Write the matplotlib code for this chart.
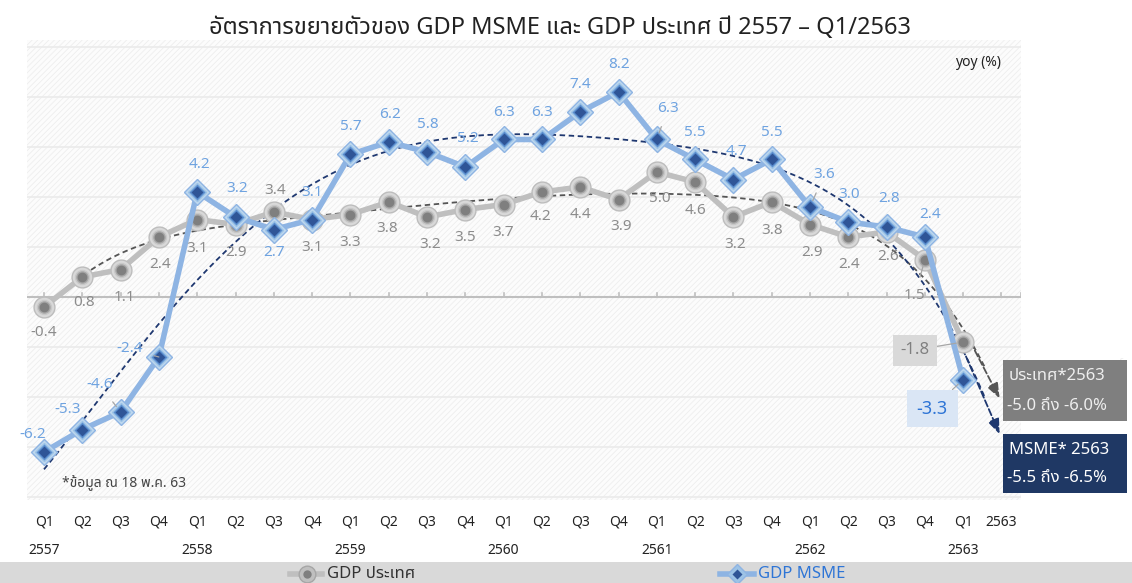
import numpy as np
import matplotlib
matplotlib.use("Agg")
import matplotlib.pyplot as plt
from matplotlib import font_manager
from matplotlib.ft2font import FT2Font
from matplotlib.patches import Rectangle
from matplotlib.lines import Line2D

# ---------------- data ----------------
quarters = ["Q1", "Q2", "Q3", "Q4"] * 6 + ["Q1", "2563"]
years = ["2557", "2558", "2559", "2560", "2561", "2562", "2563"]
gdp_thai = [-0.4, 0.8, 1.1, 2.4,
            3.1, 2.9, 3.4, 3.1,
            3.3, 3.8, 3.2, 3.5,
            3.7, 4.2, 4.4, 3.9,
            5.0, 4.6, 3.2, 3.8,
            2.9, 2.4, 2.6, 1.5,
            -1.8]
gdp_msme = [-6.2, -5.3, -4.6, -2.4,
            4.2, 3.2, 2.7, 3.1,
            5.7, 6.2, 5.8, 5.2,
            6.3, 6.3, 7.4, 8.2,
            6.3, 5.5, 4.7, 5.5,
            3.6, 3.0, 2.8, 2.4,
            -3.3]
title = "อัตราการขยายตัวของ GDP MSME และ GDP ประเทศ ปี 2557 – Q1/2563"
legend_labels = ["GDP ประเทศ", "GDP MSME"]
forecast_thai = ["ประเทศ*2563", "-5.0 ถึง -6.0%"]
forecast_msme = ["MSME* 2563", "-5.5 ถึง -6.5%"]
note = "*ข้อมูล ณ 18 พ.ค. 63"

# ---------------- fonts ----------------
def find_thai_font():
    prefs = ["Noto Sans Thai", "Noto Sans Thai Looped", "Loma", "Garuda", "Norasi", "Kinnari"]
    names = {}
    for f in font_manager.fontManager.ttflist:
        try:
            cm = FT2Font(f.fname).get_charmap()
            if 0x0E01 in cm and 0x0E16 in cm:
                names[f.name] = f.fname
        except Exception:
            pass
    for p in prefs:
        if p in names:
            return p
    return sorted(names)[0] if names else None

thai = find_thai_font()
fams = ([thai] if thai else []) + ["DejaVu Sans"]
plt.rcParams["font.family"] = fams
plt.rcParams["hatch.linewidth"] = 0.6

W, H = 1132, 583
fig = plt.figure(figsize=(W / 100, H / 100), dpi=100)
fig.patch.set_facecolor("white")

# axes placement in pixels
x0, x1, y_top, y_bot = 27, 1021, 40, 500
ax = fig.add_axes([x0 / W, 1 - y_bot / H, (x1 - x0) / W, (y_bot - y_top) / H])
xpx0, xstep = 44.0, 38.3
ypx0, ystep = 297.0, 25.0
ax.set_xlim((x0 - xpx0) / xstep, (x1 - xpx0) / xstep)
ax.set_ylim((ypx0 - y_bot) / ystep, (ypx0 - y_top) / ystep)
for s in ax.spines.values():
    s.set_visible(False)
ax.set_xticks([])
ax.set_yticks([])
ax.set_facecolor("#fcfcfc")
ax.add_patch(Rectangle((0, 0), 1, 1, transform=ax.transAxes, facecolor="none",
                       edgecolor="#eeeeee", hatch="//////", lw=0, zorder=0))
for g in range(-8, 11, 2):
    if g != 0:
        ax.axhline(g, color="#ebebeb", lw=1.2, zorder=0.5)
ax.axhline(0, color="#bfbfbf", lw=1.5, zorder=1)
n = len(gdp_thai)
xs = np.arange(n)
for t in list(range(n + 1)) + [ax.get_xlim()[1]]:
    ax.plot([t, t], [0, 0.17], color="#bfbfbf", lw=1.2, zorder=1)

# trend lines (polynomial fit of the data), extended with an arrow
xx = np.linspace(0, 24.95, 200)
for vals, col in [(gdp_thai, "#555555"), (gdp_msme, "#1f3870")]:
    c = np.polyfit(xs, vals, 6)
    yy = np.polyval(c, xx)
    ax.plot(xx[:-3], yy[:-3], ls=(0, (3, 2)), color=col, lw=1.3, zorder=2)
    ax.annotate("", xy=(xx[-1], yy[-1]), xytext=(xx[-8], yy[-8]),
                arrowprops=dict(arrowstyle="-|>,head_width=0.35,head_length=0.9",
                                color=col, lw=1.3, ls="--", shrinkA=0, shrinkB=0),
                annotation_clip=False, zorder=2)

# series
ax.plot(xs, gdp_thai, color="#bfbfbf", lw=4, zorder=3, solid_capstyle="round")
ax.plot(xs, gdp_thai, ls="none", marker="o", ms=15, mfc="#d9d9d9", mec="#bdbdbd", mew=1, zorder=4)
ax.plot(xs, gdp_thai, ls="none", marker="o", ms=10, mfc="#a6a6a6", mec="#c8c8c8", mew=1, zorder=4)
ax.plot(xs, gdp_thai, ls="none", marker="o", ms=7, mfc="#7f7f7f", mec="none", zorder=4)

ax.plot(xs, gdp_msme, color="#8eb4e3", lw=4, zorder=5)
ax.plot(xs, gdp_msme, ls="none", marker="D", ms=13, mfc="#bdd7ee", mec="#8eb4e3", mew=1, zorder=6)
ax.plot(xs, gdp_msme, ls="none", marker="D", ms=9, mfc="#5b8fd0", mec="#9dc3e6", mew=1, zorder=6)
ax.plot(xs, gdp_msme, ls="none", marker="D", ms=6, mfc="#2f5597", mec="none", zorder=6)

# labels
gdp_off = [(0, -26), (2, -26), (4, -28), (1, -28), (0, -29), (0, -28), (1, 21), (0, -28),
           (0, -28), (-2, -27), (3, -28), (0, -28), (0, -28), (-1, -25), (0, -28), (3, -27),
           (3, -26), (0, -28), (2, -28), (0, -28), (2, -28), (1, -28), (2, -25), (-10, -36), None]
gdp_lead = {23}
msme_off = [(-11, 17), (-15, 20), (-21, 27), (-29, 8), (2, 28), (2, 28), (0, -23), (0, 27),
            (0, 28), (1, 27), (1, 27), (3, 28), (0, 27), (0, 27), (0, 27), (1, 27),
            (11, 31), (0, 27), (3, 28), (0, 27), (14, 32), (1, 27), (2, 28), (5, 23), None]
msme_lead = {2, 3, 16, 20}
for i in range(n):
    for vals, offs, leads, col in [(gdp_thai, gdp_off, gdp_lead, "#8c8c8c"),
                                   (gdp_msme, msme_off, msme_lead, "#6fa3e0")]:
        o = offs[i]
        if o is None:
            continue
        ap = None
        if i in leads:
            ap = dict(arrowstyle="-", color="#a6a6a6", lw=0.9, shrinkA=6, shrinkB=5)
        ax.annotate(f"{vals[i]:.1f}".replace("-", "−"), (i, vals[i]), xytext=o,
                    textcoords="offset pixels", ha="center", va="center",
                    fontsize=11, color=col, arrowprops=ap, zorder=7)

# boxed last-quarter labels
ax.annotate(f"{gdp_thai[-1]:.1f}".replace("-", "−"), (n - 1, gdp_thai[-1]), xytext=(-48, -8),
            textcoords="offset pixels", ha="center", va="center", fontsize=12, color="#7f7f7f",
            bbox=dict(boxstyle="square,pad=0.45", fc="#d9d9d9", ec="none"),
            arrowprops=dict(arrowstyle="-", color="#a6a6a6", lw=0.9, shrinkA=0, shrinkB=5), zorder=7)
ax.annotate(f"{gdp_msme[-1]:.1f}".replace("-", "−"), (n - 1, gdp_msme[-1]), xytext=(-31, -29),
            textcoords="offset pixels", ha="center", va="center", fontsize=13, color="#2e75d6",
            fontweight="bold",
            bbox=dict(boxstyle="square,pad=0.55", fc="#dae6f5", ec="none"),
            arrowprops=dict(arrowstyle="-", color="#a6a6a6", lw=0.9, shrinkA=0, shrinkB=5), zorder=7)

# forecast boxes (figure pixels)
def fig_box(xl, yt, xr, yb, fc, lines, tcol):
    fig.patches.append(Rectangle((xl / W, 1 - yb / H), (xr - xl) / W, (yb - yt) / H,
                                 transform=fig.transFigure, fc=fc, ec="none", zorder=5))
    hh = (yb - yt)
    t1 = fig.text((xl + 6) / W, 1 - (yt + hh * 0.27) / H, lines[0], color=tcol, fontsize=12,
                  ha="left", va="center", zorder=6)
    fig.text((xl + 4) / W, 1 - (yt + hh * 0.75) / H, lines[1], color=tcol, fontsize=12,
             ha="left", va="center", zorder=6)
    return t1

fig_box(1003, 360, 1127, 421, "#7f7f7f", forecast_thai, "#eeeeee")
fig_box(1003, 434, 1127, 493, "#1f3864", forecast_msme, "#ffffff")
fig.text(1119 / W, 1 - 366 / H, "f", color="#eeeeee", fontsize=8, style="italic")
fig.text(1117 / W, 1 - 440 / H, "f", color="#ffffff", fontsize=8, style="italic")

# axis labels
for i, q in enumerate(quarters):
    fig.text((xpx0 + i * xstep) / W, 1 - 522 / H, q, ha="center", va="center",
             fontsize=10, color="#222222")
for k, yv in enumerate(years):
    fig.text((xpx0 + 4 * k * xstep) / W, 1 - 550 / H, yv, ha="center", va="center",
             fontsize=10, color="#222222")

fig.text(560 / W, 1 - 28 / H, title, ha="center", va="center", fontsize=17, color="#222222")
fig.text(978 / W, 1 - 63 / H, "yoy (%)", ha="center", va="center", fontsize=10,
         color="#222222", fontweight="bold")
fig.text(62 / W, 1 - 483 / H, note, ha="left", va="center", fontsize=10, color="#444444")

# legend band
fig.patches.append(Rectangle((0, 0), 1, 21 / H, transform=fig.transFigure, fc="#d9d9d9",
                             ec="none", zorder=0))
ly = 1 - 574 / H
fig.lines.append(Line2D([290 / W, 322 / W], [ly, ly], transform=fig.transFigure,
                        color="#bfbfbf", lw=4))
fig.lines.append(Line2D([307 / W], [ly], transform=fig.transFigure, marker="o", ms=12,
                        mfc="#bfbfbf", mec="#a6a6a6", ls="none"))
fig.lines.append(Line2D([307 / W], [ly], transform=fig.transFigure, marker="o", ms=6,
                        mfc="#7f7f7f", mec="none", ls="none"))
fig.text(327 / W, ly, legend_labels[0], ha="left", va="center", fontsize=12, color="#333333")
fig.lines.append(Line2D([720 / W, 754 / W], [ly, ly], transform=fig.transFigure,
                        color="#8eb4e3", lw=4))
fig.lines.append(Line2D([737 / W], [ly], transform=fig.transFigure, marker="D", ms=10,
                        mfc="#9dc3e6", mec="#8eb4e3", ls="none"))
fig.lines.append(Line2D([737 / W], [ly], transform=fig.transFigure, marker="D", ms=5,
                        mfc="#2f5597", mec="none", ls="none"))
fig.text(758 / W, ly, legend_labels[1], ha="left", va="center", fontsize=12, color="#2e75d6")

fig.savefig("out.png", dpi=100)
